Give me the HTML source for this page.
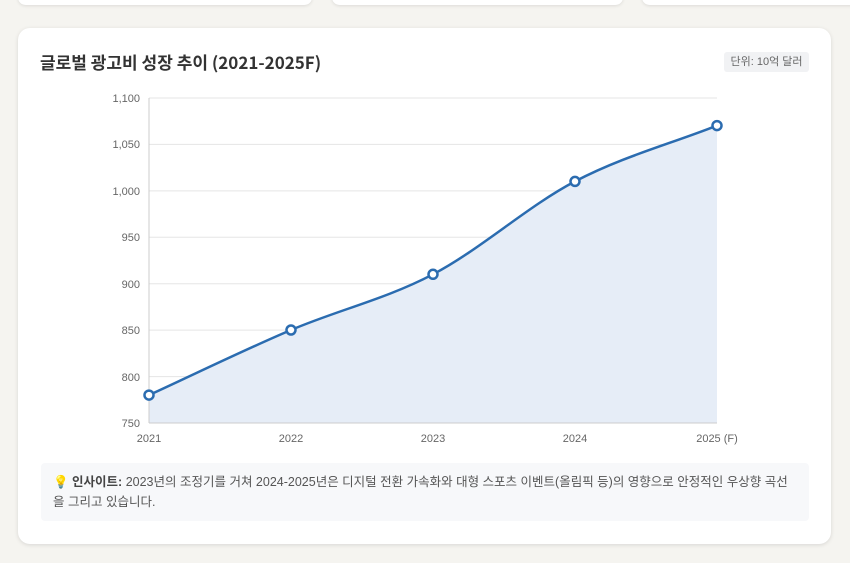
<!DOCTYPE html><html><head><meta charset="utf-8"><style>
body{margin:0;width:850px;height:563px;background:#f5f4f0;font-family:"Liberation Sans","Noto Sans CJK KR",sans-serif;position:relative;overflow:hidden}
.top{position:absolute;top:-10px;height:15px;background:#fff;border-radius:10px;box-shadow:0 1px 3px rgba(0,0,0,.1)}
.card{position:absolute;left:18px;top:28px;width:813px;height:516px;background:#fff;border-radius:12px;box-shadow:0 1px 4px rgba(0,0,0,.12)}
h2{position:absolute;left:22px;top:21px;margin:0;font-family:"Noto Sans CJK KR",sans-serif;font-size:17px;font-weight:bold;color:#333}
.unit{position:absolute;left:706px;top:24px;width:85px;height:20px;background:#f1f2f4;border-radius:3px;font-size:11px;color:#666;line-height:20px;text-align:center}
.ins{position:absolute;left:23px;top:435px;width:749px;height:58px;padding:0 7px 0 12px;background:#f7f8fa;border-radius:4px;font-size:12.5px;color:#555;line-height:20px;box-sizing:content-box;white-space:nowrap}
.ins p{margin:9px 0 0 0}
</style></head><body>
<div class="top" style="left:18px;width:294px"></div>
<div class="top" style="left:332px;width:291px"></div>
<div class="top" style="left:642px;width:230px"></div>
<div class="card">
<h2>글로벌 광고비 성장 추이 (2021-2025F)</h2>
<div class="unit">단위: 10억 달러</div>
<div class="ins"><p>💡 <b style="color:#444">인사이트:</b> 2023년의 조정기를 거쳐 2024-2025년은 디지털 전환 가속화와 대형 스포츠 이벤트(올림픽 등)의 영향으로 안정적인 우상향 곡선<br>을 그리고 있습니다.</p></div>
</div>
<svg width="850" height="563" style="position:absolute;left:0;top:0" font-family="Liberation Sans, sans-serif" font-size="11" fill="#666">
<g stroke="#e5e5e5" stroke-width="1">
<line x1="149" x2="717" y1="98" y2="98"/><line x1="149" x2="717" y1="144.4" y2="144.4"/><line x1="149" x2="717" y1="190.9" y2="190.9"/><line x1="149" x2="717" y1="237.3" y2="237.3"/><line x1="149" x2="717" y1="283.7" y2="283.7"/><line x1="149" x2="717" y1="330.1" y2="330.1"/><line x1="149" x2="717" y1="376.6" y2="376.6"/>
</g>
<path d="M149,395.1 C196.3,373.4 243.7,350.1 291,330 C338.3,309.9 385.7,299.1 433,274.3 C480.3,249.5 527.7,206.2 575,181.4 C622.3,156.6 669.7,144.2 717,125.6 L717,423 L149,423 Z" fill="#e6edf7"/>
<line x1="149" x2="149" y1="98" y2="423" stroke="#ccc"/>
<line x1="149" x2="717" y1="423" y2="423" stroke="#ccc"/>
<g text-anchor="end"><text x="140" y="102">1,100</text><text x="140" y="148">1,050</text><text x="140" y="195">1,000</text><text x="140" y="241">950</text><text x="140" y="288">900</text><text x="140" y="334">850</text><text x="140" y="381">800</text><text x="140" y="427">750</text></g>
<g text-anchor="middle"><text x="149" y="442">2021</text><text x="291" y="442">2022</text><text x="433" y="442">2023</text><text x="575" y="442">2024</text><text x="717" y="442">2025 (F)</text></g>
<path d="M149,395.1 C196.3,373.4 243.7,350.1 291,330 C338.3,309.9 385.7,299.1 433,274.3 C480.3,249.5 527.7,206.2 575,181.4 C622.3,156.6 669.7,144.2 717,125.6" fill="none" stroke="#2b6cb0" stroke-width="2.5"/>
<g fill="#fff" stroke="#2b6cb0" stroke-width="2.5"><circle cx="149" cy="395.1" r="4.5"/><circle cx="291" cy="330" r="4.5"/><circle cx="433" cy="274.3" r="4.5"/><circle cx="575" cy="181.4" r="4.5"/><circle cx="717" cy="125.6" r="4.5"/></g>
</svg>
</body></html>
